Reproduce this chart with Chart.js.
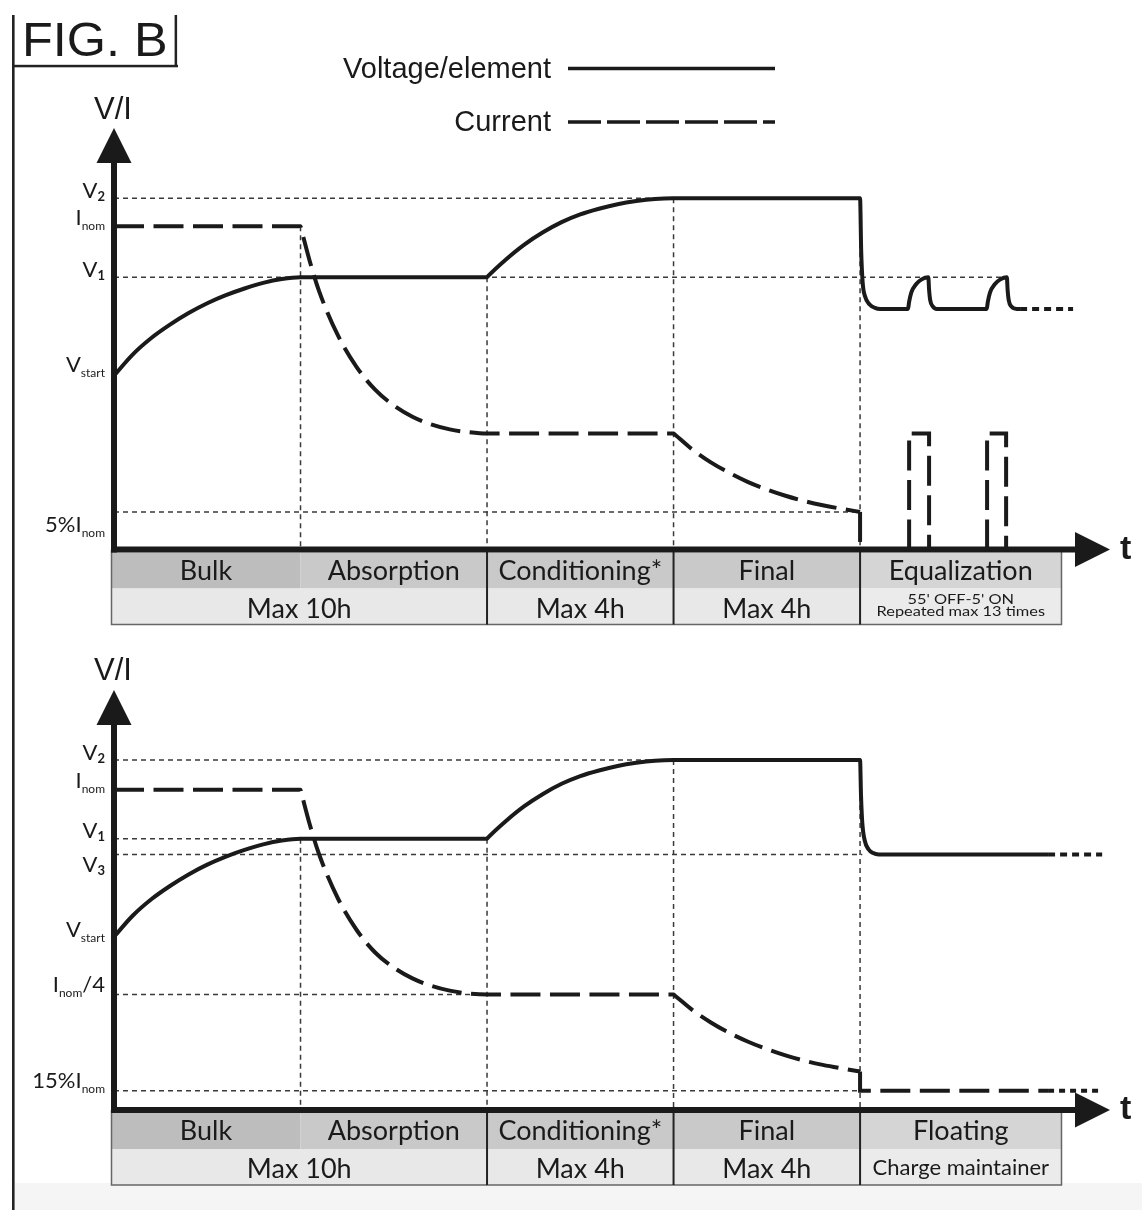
<!DOCTYPE html>
<html>
<head>
<meta charset="utf-8">
<title>FIG. B</title>
<script src="https://cdn.jsdelivr.net/npm/chart.js@4.4.1/dist/chart.umd.min.js"></script>
<style>
  html, body { margin:0; padding:0; background:#ffffff; }
  body { width:1142px; height:1210px; position:relative; overflow:hidden; }
  canvas { position:absolute; left:0; }
  #topChart { top:0; }
  #bottomChart { top:640px; }
</style>
</head>
<body>
<canvas id="topChart" width="1142" height="640"></canvas>
<canvas id="bottomChart" width="1142" height="570"></canvas>
<script>
// ================= DATA =================
// time axis: one unit per charging phase column
const phaseEdges = [0, 1, 2, 3, 4, 5.08];
const topPhaseNames = ['Bulk', 'Absorption', 'Conditioning*', 'Final', 'Equalization'];
const bottomPhaseNames = ['Bulk', 'Absorption', 'Conditioning*', 'Final', 'Floating'];
const durationSpans = [[0, 2], [2, 3], [3, 4], [4, 5]];
const topDurations = ['Max 10h', 'Max 4h', 'Max 4h', "55' OFF-5' ON\nRepeated max 13 times"];
const bottomDurations = ['Max 10h', 'Max 4h', 'Max 4h', 'Charge maintainer'];

// level labels on the V/I axis
const topTickValues = [100, 92, 77.5, 49.5, 10.7];
const topTickLabels = ['V{2}', 'I{nom}', 'V{1}', 'V{start}', '5%I{nom}'];
const bottomTickValues = [100, 91.5, 77.5, 73, 49.5, 33, 5.5];
const bottomTickLabels = ['V{2}', 'I{nom}', 'V{1}', 'V{3}', 'V{start}', 'I{nom}/4', '15%I{nom}'];

// voltage / element
const voltageBulk = [[0, 49.5], [0.1, 55.5], [0.2, 60.2], [0.3, 64], [0.4, 67.3], [0.5, 70.1], [0.6, 72.4], [0.7, 74.3], [0.8, 75.9], [0.9, 77], [1, 77.5]];
const voltageConditioning = [[2, 77.5], [2.005, 77.8], [2.1, 82.5], [2.2, 86.8], [2.3, 90.3], [2.4, 93.2], [2.5, 95.4], [2.6, 97], [2.7, 98.3], [2.8, 99.2], [2.9, 99.8], [3, 100]];
const topVoltageEqualization = [[4, 100], [4.006, 85], [4.014, 76], [4.027, 72], [4.05, 69.8], [4.08, 68.8], [4.107, 68.5],
  [4.257, 68.5], [4.263, 70.5], [4.275, 73.2], [4.3, 75.5], [4.33, 76.9], [4.366, 77.5], [4.37, 74], [4.376, 71], [4.39, 69.2], [4.411, 68.5],
  [4.679, 68.5], [4.685, 70.5], [4.697, 73.2], [4.722, 75.5], [4.752, 76.9], [4.787, 77.5], [4.791, 74], [4.797, 71], [4.811, 69.2], [4.84, 68.5], [4.858, 68.5]];
const topVoltageContinued = [[4.858, 68.5], [5.142, 68.5]];
const bottomVoltageFloating = [[4, 100], [4.005, 90], [4.012, 82], [4.025, 77], [4.045, 74.5], [4.07, 73.4], [4.1, 73], [5.008, 73]];
const bottomVoltageContinued = [[5.008, 73], [5.298, 73]];

// current
const topCurrentMain = [[0, 92], [1, 92], [1.005, 91], [1.05, 82], [1.1, 73.5], [1.2, 61], [1.3, 52], [1.4, 45.5], [1.5, 41], [1.6, 37.8], [1.7, 35.6], [1.8, 34.2], [1.9, 33.4], [2, 33],
  [3, 33], [3.005, 32.8], [3.1, 28.5], [3.2, 24.8], [3.3, 21.8], [3.4, 19.2], [3.5, 17.1], [3.6, 15.3], [3.7, 13.8], [3.8, 12.6], [3.9, 11.6], [4, 10.7]];
const topCurrentCutoff = [[4, 10.7], [4, 0]];
const topCurrentPulse1 = [[4.263, 0], [4.263, 33], [4.37, 33], [4.37, 0]];
const topCurrentPulse2 = [[4.681, 0], [4.681, 33], [4.783, 33], [4.783, 0]];
const bottomCurrentMain = [[0, 91.5], [1, 91.5], [1.005, 90.5], [1.05, 81.5], [1.1, 73], [1.2, 60.5], [1.3, 51.5], [1.4, 45], [1.5, 40.7], [1.6, 37.6], [1.7, 35.5], [1.8, 34.1], [1.9, 33.3], [2, 33],
  [3, 33], [3.005, 32.8], [3.1, 28.6], [3.2, 25], [3.3, 22], [3.4, 19.5], [3.5, 17.4], [3.6, 15.6], [3.7, 14.1], [3.8, 12.9], [3.9, 11.9], [4, 11]];
const bottomCurrentFloating = [[4, 11], [4, 5.5], [5.008, 5.5]];
const bottomCurrentContinued = [[5.008, 5.5], [5.298, 5.5]];

// dotted guide lines: horizontal [y, xFrom, xTo], vertical [x, yTop]
const topGuidesH = [[100, 0, 4], [77.5, 0, 4.787], [10.7, 0, 4]];
const topGuidesV = [[1, 92], [2, 77.5], [3, 100], [4, 100]];
const bottomGuidesH = [[100, 0, 4], [77.5, 0, 2], [73, 0, 4.012], [33, 0, 2], [5.5, 0, 4]];
const bottomGuidesV = [[1, 77.5], [2, 77.5], [3, 100], [4, 100]];

// ================= STYLE =================
const INK = '#1a1a1a';
const GUIDE = '#3a3a3a';
const X_MAX = 5.34, Y_MAX = 120;
const topLabelDy = [0, -1, 0, -4, 20];
const bottomLabelDy = [0, -2, -1, 17, 0, -3, -3];
const row1Fill = ['#bdbdbd', '#c9c9c9', '#c9c9c9', '#c9c9c9', '#d5d5d5'];
const row2Fill = ['#e8e8e8', '#e8e8e8', '#e8e8e8', '#ebebeb'];

function pts(a) { return a.map(([x, y]) => ({ x, y })); }
function ds(a, o) {
  return Object.assign({ data: pts(a), borderColor: INK, borderWidth: 4, pointRadius: 0, fill: false, clip: false, tension: 0,
    borderCapStyle: 'butt', borderJoinStyle: 'miter' }, o);
}
const VOLT_CURVE = { order: 1, cubicInterpolationMode: 'monotone' };
const VOLT_DOTS = { order: 1, borderDash: [7, 5] };
const CURR = { order: 2, borderDash: [30, 9.5] };
const CURR_CURVE = { order: 2, borderDash: [30, 9.5], cubicInterpolationMode: 'monotone' };
const CURR_DOTS = { order: 2, borderDash: [6, 5] };
const GUIDE_STYLE = { order: 5, borderWidth: 1.5, borderDash: [5, 4], borderColor: GUIDE };

function guideSets(hs, vs) {
  const out = [];
  hs.forEach(([y, a, b]) => out.push(ds([[a, y], [b, y]], GUIDE_STYLE)));
  vs.forEach(([x, yt]) => out.push(ds([[x, yt], [x, 0]], GUIDE_STYLE)));
  return out;
}

function richParts(s) {
  const out = []; const re = /([^{]+)|\{([^}]*)\}/g; let m;
  while ((m = re.exec(s))) { if (m[1]) out.push({ t: m[1], sub: false }); else out.push({ t: m[2], sub: true }); }
  return out;
}
function drawRich(ctx, s, xRight, base) {
  const parts = richParts(s);
  const fonts = parts.map(p => p.sub ? (/^\d+$/.test(p.t) ? 'bold 13px Lato' : '12px Lato') : '22px Lato');
  const ws = parts.map((p, i) => { ctx.font = fonts[i]; return ctx.measureText(p.t).width; });
  let x = xRight - ws.reduce((s, w) => s + w, 0);
  parts.forEach((p, i) => {
    ctx.font = fonts[i];
    const dy = p.sub ? (/^\d+$/.test(p.t) ? 3 : 5) : 0;
    ctx.fillText(p.t, x, base + dy);
    x += ws[i];
  });
}

function decorPlugin(cfg) {
  return {
    id: 'decor',
    beforeDraw(chart) {
      const ctx = chart.ctx;
      ctx.save();
      ctx.fillStyle = '#ffffff';
      ctx.fillRect(0, 0, chart.width, chart.height);
      if (cfg.bandTop != null) {
        ctx.fillStyle = '#f5f5f5';
        ctx.fillRect(15, cfg.bandTop, chart.width, chart.height - cfg.bandTop);
      }
      // page frame line
      ctx.fillStyle = '#222';
      ctx.fillRect(12, cfg.frameTop, 2.6, chart.height - cfg.frameTop);
      if (cfg.figBox) {
        ctx.fillRect(12, 64.8, 166, 2.5);
        ctx.fillRect(174.6, 15, 2.5, 52);
        ctx.fillStyle = INK;
        ctx.font = '48px "Liberation Sans", Arial, sans-serif';
        ctx.textAlign = 'left'; ctx.textBaseline = 'alphabetic';
        ctx.save();
        ctx.translate(22, 56);
        ctx.scale(1.05, 1);
        ctx.fillText('FIG. B', 0, 0);
        ctx.restore();
      }
      ctx.restore();
    },
    afterDatasetsDraw(chart) {
      const { ctx, chartArea: a, scales: { x, y } } = chart;
      const X = v => x.getPixelForValue(v), Y = v => y.getPixelForValue(v);
      ctx.save();
      // ---- phase table ----
      const t0 = a.bottom + 3, rh = 36, t1 = t0 + rh, t2 = t1 + rh;
      const left = a.left - 2.5;
      cfg.phases.forEach((name, i) => {
        const xa = i === 0 ? left : X(phaseEdges[i]), xb = X(phaseEdges[i + 1]);
        ctx.fillStyle = row1Fill[i];
        ctx.fillRect(xa, t0, xb - xa, rh);
      });
      durationSpans.forEach(([i0, i1], j) => {
        const xa = i0 === 0 ? left : X(phaseEdges[i0]), xb = X(phaseEdges[i1]);
        ctx.fillStyle = row2Fill[j];
        ctx.fillRect(xa, t1, xb - xa, rh);
      });
      ctx.fillStyle = INK; ctx.textAlign = 'center'; ctx.textBaseline = 'alphabetic';
      cfg.phases.forEach((name, i) => {
        const xa = i === 0 ? left : X(phaseEdges[i]), xb = X(phaseEdges[i + 1]);
        ctx.font = '27px Lato';
        ctx.fillText(name, (xa + xb) / 2, t0 + 27);
      });
      durationSpans.forEach(([i0, i1], j) => {
        const xa = i0 === 0 ? left : X(phaseEdges[i0]), xb = X(phaseEdges[i1]);
        const txt = cfg.durations[j];
        const cx = (xa + xb) / 2;
        if (txt.indexOf('\n') >= 0) {
          const lines = txt.split('\n');
          ctx.font = '14px Lato';
          [[lines[0], 15.5], [lines[1], 27.5]].forEach(([s, dy]) => {
            ctx.save();
            ctx.translate(cx, t1 + dy);
            ctx.scale(1.17, 1);
            ctx.fillText(s, 0, 0);
            ctx.restore();
          });
        } else {
          ctx.font = '27px Lato';
          let small = false;
          if (ctx.measureText(txt).width > xb - xa - 12) { ctx.font = '22px Lato'; small = true; }
          ctx.fillText(txt, cx, t1 + (small ? 26 : 29));
        }
      });
      // table borders
      ctx.strokeStyle = '#666'; ctx.lineWidth = 1.5;
      const xr = X(phaseEdges[5]);
      ctx.beginPath();
      ctx.moveTo(left, a.bottom); ctx.lineTo(left, t2); ctx.lineTo(xr, t2); ctx.lineTo(xr, a.bottom);
      ctx.stroke();
      ctx.strokeStyle = '#222'; ctx.lineWidth = 2;
      [2, 3, 4].forEach(i => { ctx.beginPath(); ctx.moveTo(X(phaseEdges[i]), a.bottom); ctx.lineTo(X(phaseEdges[i]), t2); ctx.stroke(); });

      // ---- axes with arrows ----
      ctx.fillStyle = INK;
      ctx.fillRect(a.left - 3, a.top + 30, 6, a.bottom - a.top - 30 + 3);
      ctx.fillRect(a.left - 3, a.bottom - 3, a.right - 30 - a.left + 3, 6);
      ctx.beginPath();
      ctx.moveTo(a.left, a.top); ctx.lineTo(a.left - 17.5, a.top + 35); ctx.lineTo(a.left + 17.5, a.top + 35); ctx.closePath(); ctx.fill();
      ctx.beginPath();
      ctx.moveTo(a.right, a.bottom); ctx.lineTo(a.right - 35, a.bottom - 17.5); ctx.lineTo(a.right - 35, a.bottom + 17.5); ctx.closePath(); ctx.fill();
      ctx.font = 'bold 34px "Liberation Sans", Arial, sans-serif';
      ctx.textAlign = 'left';
      ctx.fillText('t', a.right + 10, a.bottom + 9);
      ctx.font = '31px "Liberation Sans", Arial, sans-serif';
      ctx.textAlign = 'center';
      ctx.fillText('V/I', a.left - 1, a.top - cfg.viGap);

      // ---- level labels ----
      ctx.textAlign = 'left';
      cfg.tickValues.forEach((v, i) => drawRich(ctx, cfg.tickLabels[i], 105, Y(v) + cfg.labelDy[i]));

      // ---- legend ----
      if (cfg.legend) {
        const sets = chart.data.datasets.filter(d => d.label);
        const rows = [[78, 68.5], [131, 122]];
        sets.forEach((d, i) => {
          ctx.font = '29px "Liberation Sans", Arial, sans-serif';
          ctx.textAlign = 'right';
          ctx.fillStyle = INK;
          ctx.fillText(d.label, 551, rows[i][0]);
          ctx.strokeStyle = INK; ctx.lineWidth = 3.5;
          ctx.setLineDash(d.borderDash ? [33, 6] : []);
          ctx.beginPath(); ctx.moveTo(568, rows[i][1]); ctx.lineTo(775, rows[i][1]); ctx.stroke();
          ctx.setLineDash([]);
        });
      }
      ctx.restore();
    }
  };
}

function baseOptions(padding) {
  return {
    responsive: false, animation: false, events: [],
    layout: { padding },
    plugins: { legend: { display: false }, tooltip: { enabled: false } },
    scales: {
      x: { type: 'linear', min: 0, max: X_MAX, display: false },
      y: { type: 'linear', min: 0, max: Y_MAX, display: false }
    }
  };
}

function build() {
  const topSets = [
    ds(voltageBulk.concat(voltageConditioning, topVoltageEqualization), Object.assign({ label: 'Voltage/element' }, VOLT_CURVE)),
    ds(topVoltageContinued, VOLT_DOTS),
    ds(topCurrentMain, Object.assign({ label: 'Current' }, CURR_CURVE)),
    ds(topCurrentCutoff, CURR),
    ds(topCurrentPulse1, CURR),
    ds(topCurrentPulse2, CURR)
  ].concat(guideSets(topGuidesH, topGuidesV));

  new Chart(document.getElementById('topChart'), {
    type: 'line',
    data: { datasets: topSets },
    options: baseOptions({ left: 114, right: 32, top: 128, bottom: 90.5 }),
    plugins: [decorPlugin({ phases: topPhaseNames, durations: topDurations, tickValues: topTickValues, tickLabels: topTickLabels,
      labelDy: topLabelDy, legend: true, figBox: true, frameTop: 15, viGap: 9, bandTop: null })]
  });

  const bottomSets = [
    ds(voltageBulk.concat(voltageConditioning, bottomVoltageFloating), VOLT_CURVE),
    ds(bottomVoltageContinued, VOLT_DOTS),
    ds(bottomCurrentMain, CURR_CURVE),
    ds(bottomCurrentFloating, CURR),
    ds(bottomCurrentContinued, CURR_DOTS)
  ].concat(guideSets(bottomGuidesH, bottomGuidesV));

  new Chart(document.getElementById('bottomChart'), {
    type: 'line',
    data: { datasets: bottomSets },
    options: baseOptions({ left: 114, right: 32, top: 50, bottom: 100 }),
    plugins: [decorPlugin({ phases: bottomPhaseNames, durations: bottomDurations, tickValues: bottomTickValues, tickLabels: bottomTickLabels,
      labelDy: bottomLabelDy, legend: false, figBox: false, frameTop: 0, viGap: 10, bandTop: 543 })]
  });
}

Promise.all([
  document.fonts.load('26px Lato'), document.fonts.load('bold 13px Lato'),
  document.fonts.load('29px "Liberation Sans"'), document.fonts.load('bold 34px "Liberation Sans"')
]).then(build, build);
</script>
</body>
</html>
